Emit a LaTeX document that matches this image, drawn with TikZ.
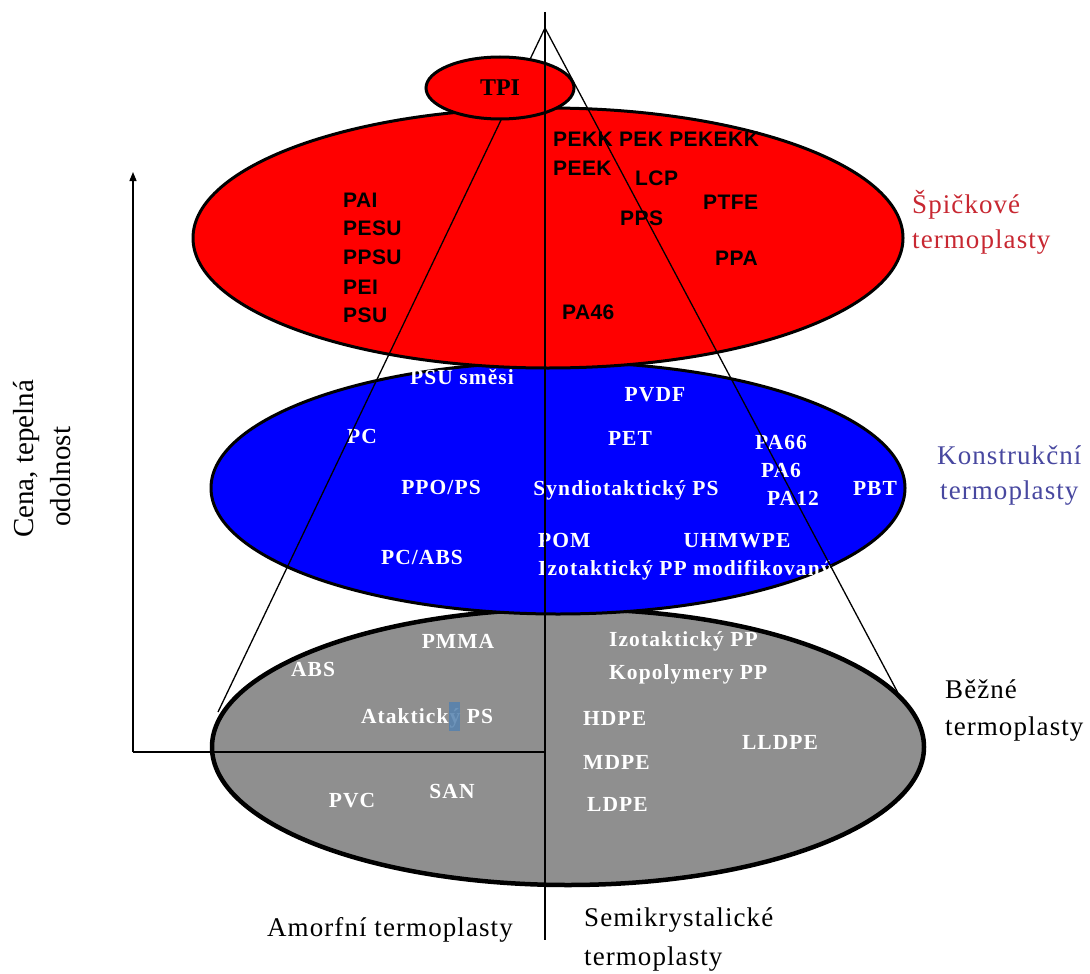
\documentclass[tikz,border=0pt]{standalone}
\usepackage{fontspec}
\setmainfont{Liberation Serif}
\newfontfamily\redsans[LetterSpace=2]{Liberation Sans}
\newfontfamily\boldserif[LetterSpace=5]{Liberation Serif}
\newfontfamily\labserif[LetterSpace=4]{Liberation Serif}
\usetikzlibrary{shapes.geometric,arrows.meta}
\definecolor{zonered}{RGB}{255,0,0}
\definecolor{zoneblue}{RGB}{0,0,255}
\definecolor{zonegray}{RGB}{143,143,143}
\definecolor{labred}{RGB}{200,40,50}
\definecolor{labblue}{RGB}{72,72,160}
\definecolor{hlblue}{RGB}{85,130,175}
\begin{document}
\begin{tikzpicture}[x=1pt,y=-1pt,
  zone/.style={ellipse, draw=black, line width=3pt, inner sep=0pt},
  thinline/.style={draw=black, line width=1.3pt},
  redtxt/.style={font=\redsans\bfseries\fontsize{21}{24}\selectfont, text=black, inner sep=0pt, text height=15pt, text depth=0pt},
  bluetxt/.style={font=\boldserif\bfseries\fontsize{21.5}{25}\selectfont, text=white, inner sep=0pt, text height=14.5pt, text depth=0pt},
  graytxt/.style={font=\boldserif\bfseries\fontsize{21.5}{25}\selectfont, text=white, inner sep=0pt, text height=14.5pt, text depth=0pt},
  sidelab/.style={font=\labserif\fontsize{27}{31}\selectfont, inner sep=0pt, anchor=base west},
  axislab/.style={font=\fontsize{29}{33}\selectfont, inner sep=0pt, anchor=base west, rotate=90}
]
\useasboundingbox (0,0) rectangle (1090,974);
\fill[white] (0,0) rectangle (1090,974);

% zones
\node[zone, line width=4.5pt, fill=zonegray, minimum width=712pt, minimum height=276pt] (bezne) at (568,747) {};
\node[zone, fill=zoneblue, minimum width=694pt, minimum height=252pt] (konstr) at (558,488) {};
\node[zone, fill=zonered, minimum width=710pt, minimum height=260pt] (spick) at (548,238) {};

% axes
\coordinate (orig) at (133,752);
\coordinate (axtop) at (133,172);
\coordinate (axmid) at (545,752);
\draw[thinline] (axmid) -- (orig);
\draw[thinline, -{Triangle[length=9pt,width=7pt]}] (orig) -- (axtop);

% red zone texts
\node[redtxt, anchor=west] (pekk) at (553,139) {PEKK PEK PEKEKK};
\node[redtxt, anchor=west] (peek) at (553,168) {PEEK};
\node[redtxt, anchor=west] (lcp) at (635,178) {LCP};
\node[redtxt, anchor=west] (ptfe) at (703,202) {PTFE};
\node[redtxt, anchor=west] (pps) at (620,218) {PPS};
\node[redtxt, anchor=west] (ppa) at (715,258) {PPA};
\node[redtxt, anchor=west] (pa46) at (562,312) {PA46};
\node[redtxt, anchor=west] (pai) at (343,200) {PAI};
\node[redtxt, anchor=west] (pesu) at (343,228) {PESU};
\node[redtxt, anchor=west] (ppsu) at (343,257) {PPSU};
\node[redtxt, anchor=west] (pei) at (343,287) {PEI};
\node[redtxt, anchor=west] (psu) at (343,315) {PSU};

% blue zone texts
\node[bluetxt] (psusm) at (462,377) {PSU směsi};
\node[bluetxt] (pvdf) at (655,394) {PVDF};
\node[bluetxt] (pc) at (362,436) {PC};
\node[bluetxt] (pet) at (630,438) {PET};
\node[bluetxt] (pa66) at (781,442) {PA66};
\node[bluetxt] (pa6) at (781,470) {PA6};
\node[bluetxt] (pa12) at (793,498) {PA12};
\node[bluetxt] (pbt) at (875,488) {PBT};
\node[bluetxt] (ppops) at (441,487) {PPO/PS};
\node[bluetxt] (synd) at (626,488) {Syndiotaktický PS};
\node[bluetxt, anchor=west] (pom) at (538,540) {POM};
\node[bluetxt] (uhmw) at (737,540) {UHMWPE};
\node[bluetxt, anchor=west] (izomod) at (538,568) {Izotaktický PP modifikovaný};
\node[bluetxt] (pcabs) at (422,557) {PC/ABS};

% gray zone texts
\node[graytxt] (pmma) at (458,641) {PMMA};
\node[graytxt] (abs) at (313,669) {ABS};
\node[graytxt] (atak) at (427,716) {Ataktický PS};
\fill[hlblue, opacity=0.85] (449,702) rectangle (460,731);
\node[graytxt] (pvc) at (352,800) {PVC};
\node[graytxt] (san) at (452,791) {SAN};
\node[graytxt, anchor=west] (izopp) at (609,639) {Izotaktický PP};
\node[graytxt, anchor=west] (kopol) at (609,672) {Kopolymery PP};
\node[graytxt, anchor=west] (hdpe) at (583,718) {HDPE};
\node[graytxt, anchor=west] (mdpe) at (583,762) {MDPE};
\node[graytxt, anchor=west] (ldpe) at (587,804) {LDPE};
\node[graytxt] (lldpe) at (780,742) {LLDPE};

% side labels
\node[sidelab, text=labred] (spl1) at (912,213) {Špičkové};
\node[sidelab, text=labred] (spl2) at (912,248) {termoplasty};
\node[sidelab, text=labblue] (kol1) at (937,464) {Konstrukční};
\node[sidelab, text=labblue] (kol2) at (940,499) {termoplasty};
\node[sidelab] (bel1) at (945,698) {Běžné};
\node[sidelab] (bel2) at (945,735) {termoplasty};
\node[sidelab] (amorf) at (267,936) {Amorfní termoplasty};
\node[sidelab] (semi1) at (584,926) {Semikrystalické};
\node[sidelab] (semi2) at (584,965) {termoplasty};
\node[axislab] (cena1) at (33,538) {Cena, tepelná};
\node[axislab] (cena2) at (70,527) {odolnost};

% cone
\coordinate (apex) at (545,28);
\coordinate (leftfoot) at (218,712);
\coordinate (rightfoot) at (898,693);
\draw[thinline] (apex) -- (leftfoot);
\draw[thinline] (apex) -- (rightfoot);

% TPI
\node[zone, fill=zonered, minimum width=148pt, minimum height=62pt,
  font=\bfseries\fontsize{24}{28}\selectfont] (tpi) at (500,88) {TPI};

% central divider
\coordinate (ctop) at (545,12);
\coordinate (cbot) at (545,940);
\draw[thinline] (ctop) -- (cbot);
\end{tikzpicture}
\end{document}
